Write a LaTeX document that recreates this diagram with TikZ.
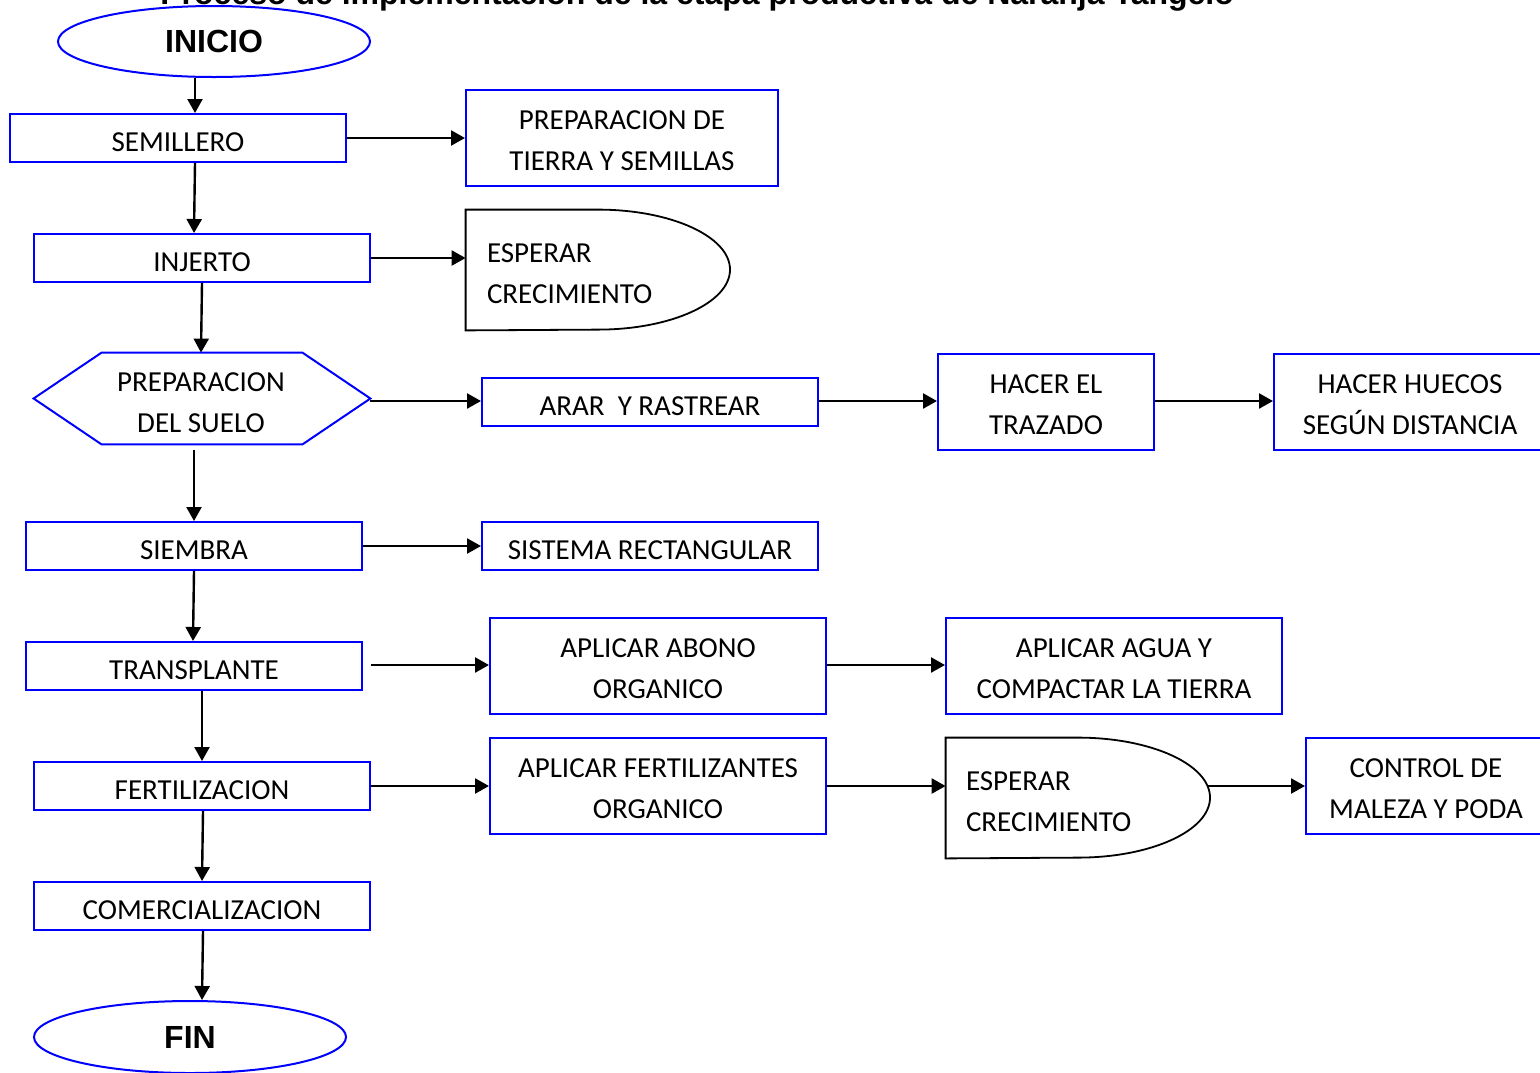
\documentclass[tikz,border=0pt]{standalone}
\usepackage{fontspec}
\setmainfont{Carlito}
\newfontfamily\arialf{Liberation Sans}
\usetikzlibrary{shapes.geometric,arrows.meta}
\definecolor{bblue}{RGB}{0,0,255}
\tikzset{
  bx/.style 2 args={draw=bblue, line width=1pt, rectangle, inner sep=0pt, minimum width=#1, minimum height=#2},
  phantombox/.style 2 args={draw=none, rectangle, inner sep=0pt, minimum width=#1, minimum height=#2},
  ell/.style 2 args={draw=bblue, line width=1pt, ellipse, inner sep=0pt, minimum width=#1, minimum height=#2, font=\arialf\bfseries\fontsize{16}{19}\selectfont},
  lbl/.style={inner sep=0pt, font=\fontsize{14.5}{20.5}\selectfont},
  arr/.style={-{Triangle[length=7pt,width=7.5pt]}, line width=1.2pt},
  delayline/.style={draw=black, line width=0.9pt},
}
\newcommand{\twol}[2]{\begin{tabular}{@{}c@{}}#1\\#2\end{tabular}}
\newcommand{\twoleft}[2]{\begin{tabular}{@{}l@{}}#1\\#2\end{tabular}}
\newcommand{\onel}[1]{\begin{tabular}{@{}c@{}}#1\end{tabular}}
\begin{document}
\begin{tikzpicture}[x=0.5pt,y=-0.5pt]
\useasboundingbox (0,0) rectangle (1540,1072);
\fill[white] (0,0) rectangle (1540,1072);

% title (cut off at top)
\node[anchor=base west, inner sep=0pt, font=\arialf\bfseries\fontsize{16}{19}\selectfont] (title) at (160,4.5) {Proceso de implementación de la etapa productiva de Naranja Tangelo};

% terminals
\node[ell={156pt}{35.5pt}] (inicio) at (214,41.5) {INICIO};
\node[ell={156pt}{36pt}] (fin) at (190,1037) {FIN};

% left column
\node[bx={168pt}{24pt}] (sem) at (178,138) {};
\node[lbl] (tsem) at ([yshift=-2.8pt]sem.center) {\onel{SEMILLERO}};
\node[bx={168pt}{24pt}] (inj) at (202,258) {};
\node[lbl] (tinj) at ([yshift=-2.8pt]inj.center) {\onel{INJERTO}};
\node[phantombox={168pt}{45.5pt}] (hex) at (202,398.5) {};
\draw[draw=bblue, line width=1pt] (hex.west) -- ([xshift=34pt]hex.north west) -- ([xshift=-34pt]hex.north east) -- (hex.east) -- ([xshift=-34pt]hex.south east) -- ([xshift=34pt]hex.south west) -- cycle;
\node[lbl] (thex) at ([xshift=-0.5pt,yshift=-2.75pt]hex.center) {\twol{PREPARACION}{DEL SUELO}};
\node[bx={168pt}{24pt}] (siem) at (194,546) {};
\node[lbl] (tsiem) at ([yshift=-2.8pt]siem.center) {\onel{SIEMBRA}};
\node[bx={168pt}{24pt}] (trans) at (194,666) {};
\node[lbl] (ttrans) at ([yshift=-2.8pt]trans.center) {\onel{TRANSPLANTE}};
\node[bx={168pt}{24pt}] (fert) at (202,786) {};
\node[lbl] (tfert) at ([yshift=-2.8pt]fert.center) {\onel{FERTILIZACION}};
\node[bx={168pt}{24pt}] (com) at (202,906) {};
\node[lbl] (tcom) at ([yshift=-2.8pt]com.center) {\onel{COMERCIALIZACION}};

% right side
\node[bx={156pt}{48pt}] (prep) at (622,138) {};
\node[lbl] (tprep) at ([yshift=-2pt]prep.center) {\twol{PREPARACION DE}{TIERRA Y SEMILLAS}};

\node[phantombox={132pt}{60pt}] (esp1) at (598,270) {};
\draw[delayline] (esp1.north west) -- (esp1.north) arc[start angle=90, end angle=-90, x radius=66pt, y radius=30pt] -- (esp1.south west) -- cycle;
\node[lbl, anchor=west] (tesp1) at ([xshift=10.5pt,yshift=-2.5pt]esp1.west) {\twoleft{ESPERAR}{CRECIMIENTO}};

\node[bx={168pt}{24pt}] (arar) at (650,402) {};
\node[lbl] (tarar) at ([yshift=-2.8pt]arar.center) {\onel{ARAR\ \ Y RASTREAR}};
\node[bx={108pt}{48pt}] (hacer) at (1046,402) {};
\node[lbl] (thacer) at ([yshift=-2pt]hacer.center) {\twol{HACER EL}{TRAZADO}};
\node[bx={136pt}{48pt}] (huecos) at (1410,402) {};
\node[lbl] (thuecos) at ([yshift=-2pt]huecos.center) {\twol{HACER HUECOS}{SEGÚN DISTANCIA}};

\node[bx={168pt}{24pt}] (sis) at (650,546) {};
\node[lbl] (tsis) at ([yshift=-2.8pt]sis.center) {\onel{SISTEMA RECTANGULAR}};

\node[bx={168pt}{48pt}] (abono) at (658,666) {};
\node[lbl] (tabono) at ([yshift=-2pt]abono.center) {\twol{APLICAR ABONO}{ORGANICO}};
\node[bx={168pt}{48pt}] (agua) at (1114,666) {};
\node[lbl] (tagua) at ([yshift=-2pt]agua.center) {\twol{APLICAR AGUA Y}{COMPACTAR LA TIERRA}};

\node[bx={168pt}{48pt}] (fz) at (658,786) {};
\node[lbl] (tfz) at ([yshift=-2pt]fz.center) {\twol{APLICAR FERTILIZANTES}{ORGANICO}};
\node[phantombox={132pt}{60pt}] (esp2) at (1078,798) {};
\draw[delayline] (esp2.north west) -- (esp2.north) arc[start angle=90, end angle=-90, x radius=66pt, y radius=30pt] -- (esp2.south west) -- cycle;
\node[lbl, anchor=west] (tesp2) at ([xshift=10pt,yshift=-2.5pt]esp2.west) {\twoleft{ESPERAR}{CRECIMIENTO}};
\node[bx={120pt}{48pt}] (control) at (1426,786) {};
\node[lbl] (tcontrol) at ([yshift=-2pt]control.center) {\twol{CONTROL DE}{MALEZA Y PODA}};

% vertical connectors
\draw[arr] ([xshift=-9.5pt]inicio.south) -- ([xshift=8.5pt]sem.north);
\draw[arr] ([xshift=8.5pt]sem.south) -- ([xshift=-4pt]inj.north);
\draw[arr] (inj.south) -- ([xshift=-0.5pt]hex.north);
\draw[arr] ([xshift=-4pt,yshift=-3pt]hex.south) -- (siem.north);
\draw[arr] (siem.south) -- ([xshift=-0.5pt]trans.north);
\draw[arr] ([xshift=4pt]trans.south) -- (fert.north);
\draw[arr] ([xshift=0.5pt]fert.south) -- (com.north);
\draw[arr] ([xshift=0.5pt]com.south) -- ([xshift=6pt]fin.north);

% horizontal connectors
\draw[arr] (sem.east) -- (prep.west);
\draw[arr] (inj.east) -- (inj.east -| esp1.west);
\draw[arr] ([yshift=0.5pt]arar.west -| hex.east) -- ([yshift=0.5pt]arar.west);
\draw[arr] ([yshift=0.5pt]arar.east) -- ([yshift=0.5pt]hacer.west);
\draw[arr] ([yshift=0.5pt]hacer.east) -- ([yshift=0.5pt]huecos.west);
\draw[arr] (siem.east) -- (sis.west);
\draw[arr] ([xshift=4pt,yshift=0.5pt]trans.east) -- ([yshift=0.5pt]abono.west);
\draw[arr] ([yshift=0.5pt]abono.east) -- ([yshift=0.5pt]agua.west);
\draw[arr] (fert.east) -- (fz.west);
\draw[arr] (fz.east) -- (fz.east -| esp2.west);
\draw[arr] ([xshift=-1.5pt]control.west -| esp2.east) -- (control.west);
\end{tikzpicture}
\end{document}
